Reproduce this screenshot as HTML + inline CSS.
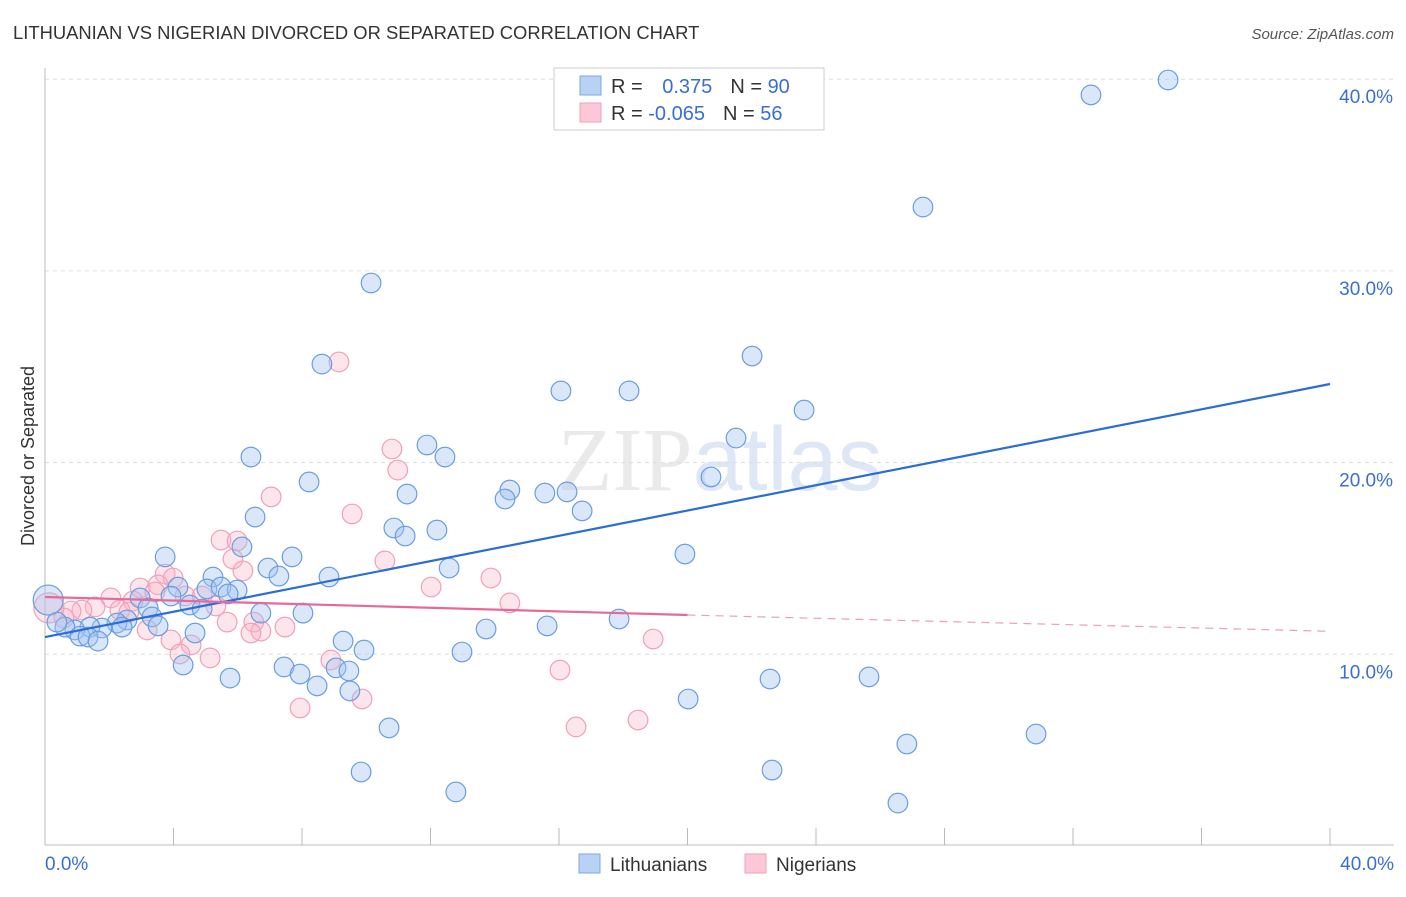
<!DOCTYPE html>
<html><head><meta charset="utf-8"><style>
body{margin:0;background:#fff;font-family:"Liberation Sans",sans-serif}
svg text{font-family:"Liberation Sans",sans-serif}
</style></head><body>
<svg id="chart" width="1406" height="892" xmlns="http://www.w3.org/2000/svg">
<text x="13" y="39" font-size="18.4" fill="#333">LITHUANIAN VS NIGERIAN DIVORCED OR SEPARATED CORRELATION CHART</text>
<text x="1394" y="39" font-size="15" fill="#555" text-anchor="end" font-style="italic">Source: ZipAtlas.com</text>
<text x="720" y="490" font-size="90" text-anchor="middle" fill="#ddd" opacity="0.6"><tspan font-family="Liberation Serif">ZIP</tspan><tspan fill="#c8d8f0">atlas</tspan></text>
<g id="grid"></g>
<g id="axes"></g>
<g id="pts"></g>
<g id="trend"></g>
<text transform="translate(34,456) rotate(-90)" font-size="18" fill="#333" text-anchor="middle">Divorced or Separated</text>
<g>
<rect x="554" y="68" width="270" height="62" fill="#fff" stroke="#ccc"/>
<rect x="580" y="76" width="21" height="19" fill="#b7d2f5" stroke="#7aa7e6"/>
<rect x="580" y="103" width="21" height="19" fill="#fcc8d8" stroke="#f0a0b8"/>
<text x="611" y="93" font-size="20" fill="#333">R = <tspan fill="#3a6fd0" dx="14">0.375</tspan><tspan dx="18" fill="#333">N = </tspan><tspan fill="#3a6fd0">90</tspan></text>
<text x="611" y="120" font-size="20" fill="#333">R = <tspan fill="#3a6fd0">-0.065</tspan><tspan dx="18" fill="#333">N = </tspan><tspan fill="#3a6fd0">56</tspan></text>
</g>
<g>
<rect x="579" y="854" width="21" height="19" fill="#b7d2f5" stroke="#7aa7e6"/>
<text x="610" y="871" font-size="19" fill="#333">Lithuanians</text>
<rect x="745" y="854" width="21" height="19" fill="#fcc8d8" stroke="#f0a0b8"/>
<text x="776" y="871" font-size="19" fill="#333">Nigerians</text>
</g>
</svg>
<script>
const yTicks=[10,20,30,40];
const yTickLabels=["10.0%","20.0%","30.0%","40.0%"];
const xTicks=[0,4,8,12,16,20,24,28,32,36,40];
const blueX=[34.96,32.56,27.33,10.15,8.62,22.01,16.06,18.18,23.63,21.51,11.89,12.45,6.41,20.73,8.22,14.47,11.27,15.56,16.25,14.32,16.72,6.54,10.86,12.20,11.21,6.13,3.74,7.69,19.92,12.58,6.94,7.28,8.84,5.23,4.14,5.04,5.48,5.98,5.70,3.92,2.96,4.51,4.89,3.21,6.72,8.03,3.33,17.87,15.63,13.73,3.52,2.55,2.24,2.40,1.77,1.40,0.93,0.62,0.37,0.1,1.09,1.34,1.65,4.67,9.28,9.93,12.98,4.30,7.44,9.06,9.46,5.76,7.94,8.47,9.49,22.57,25.65,20.02,10.71,26.83,30.85,9.84,22.63,12.79,26.55,18.99];
const blueY=[39.96,39.18,33.33,29.37,25.14,25.56,23.74,23.74,22.74,21.28,20.92,20.29,20.29,19.25,18.99,18.57,18.36,18.41,18.47,18.10,17.48,17.16,16.59,16.48,16.17,15.60,15.08,15.08,15.23,14.50,14.50,14.08,14.03,14.03,13.51,13.41,13.51,13.35,13.15,13.04,12.94,12.57,12.36,12.42,12.15,12.15,11.95,11.84,11.48,11.32,11.48,11.79,11.63,11.42,11.37,11.42,11.27,11.42,11.68,12.83,10.95,10.90,10.69,11.11,10.69,10.22,10.12,9.44,9.34,9.29,9.13,8.76,8.97,8.35,8.09,8.71,8.82,7.67,6.16,5.32,5.84,3.86,3.96,2.82,2.24,38.81];
const pinkX=[9.15,10.80,10.98,7.04,9.56,5.48,5.98,10.58,5.85,6.16,13.88,12.02,3.74,3.99,3.52,2.96,4.36,3.42,2.05,2.74,14.47,4.89,5.32,1.56,1.15,0.81,2.33,0.59,5.67,6.50,7.47,6.72,6.41,3.18,3.92,4.55,4.20,5.14,8.90,18.93,16.03,9.87,7.94,18.46,16.53,2.61,0.12];
const pinkY=[25.25,20.71,19.61,18.21,17.32,15.96,15.91,14.87,14.97,14.35,13.98,13.51,14.19,13.98,13.62,13.46,13.04,13.25,12.94,12.78,12.68,13.04,12.52,12.47,12.31,12.26,12.31,11.89,11.68,11.68,11.42,11.21,11.11,11.27,10.75,10.49,10.02,9.81,9.70,10.80,9.18,7.67,7.20,6.57,6.21,12.2,12.42];
const blueTrend=[[0,10.9],[40,24.1]];
const pinkTrend=[[0,12.99],[20,12.05],[40,11.2]];
const NS="http://www.w3.org/2000/svg";
const X=v=>45+v/40*1285, Y=v=>846-v*19.17;
function mk(tag,attrs,parent){const e=document.createElementNS(NS,tag);for(const k in attrs)e.setAttribute(k,attrs[k]);parent.appendChild(e);return e;}
const grid=document.getElementById('grid'),axes=document.getElementById('axes'),pts=document.getElementById('pts'),trend=document.getElementById('trend');
yTicks.forEach((t,i)=>{
 const l=mk('line',{x1:45,x2:1394,y1:Y(t),y2:Y(t),stroke:'#ddd','stroke-dasharray':'4,4'},grid);
 
 
 const tx=mk('text',{x:1393,y:Y(t)+24,'font-size':19,fill:'#3a6fd0','text-anchor':'end'},axes);
 tx.textContent=yTickLabels[i];
 
 
});
const al=mk('line',{x1:45,x2:45,y1:68,y2:845,stroke:'#bbb'},axes);


const bl=mk('line',{x1:45,x2:1394,y1:845,y2:845,stroke:'#bbb'},axes);


xTicks.forEach(t=>{const l=mk('line',{x1:X(t),x2:X(t),y1:828,y2:845,stroke:'#bbb'},axes);
 
 });
const x0=mk('text',{x:45,y:870,'font-size':19,fill:'#3a6fd0'},axes);x0.textContent='0.0%';


const x1=mk('text',{x:1394,y:870,'font-size':19,fill:'#3a6fd0','text-anchor':'end'},axes);x1.textContent='40.0%';


function dots(xs,ys,fill,stroke,name){xs.forEach((x,i)=>{const r=(x<0.15)?15:9.8;
 const c=mk('circle',{cx:X(x),cy:Y(ys[i]),r:r,fill:fill,stroke:stroke,'stroke-width':1.2},pts);
 
 });}
dots(pinkX,pinkY,'rgba(248,180,200,0.35)','#f0a0b8','nigerian-point');
dots(blueX,blueY,'rgba(160,196,240,0.4)','#6a9de0','lithuanian-point');
const bt=mk('line',{x1:X(blueTrend[0][0]),y1:Y(blueTrend[0][1]),x2:X(blueTrend[1][0]),y2:Y(blueTrend[1][1]),stroke:'#2a6dd6','stroke-width':2.2},trend);


const pt=mk('line',{x1:X(pinkTrend[0][0]),y1:Y(pinkTrend[0][1]),x2:X(pinkTrend[1][0]),y2:Y(pinkTrend[1][1]),stroke:'#e8689a','stroke-width':2.2},trend);


const pd=mk('line',{x1:X(pinkTrend[1][0]),y1:Y(pinkTrend[1][1]),x2:X(pinkTrend[2][0]),y2:Y(pinkTrend[2][1]),stroke:'#e8a0ba','stroke-width':1.2,'stroke-dasharray':'8,6'},trend);


</script>
</body></html>
